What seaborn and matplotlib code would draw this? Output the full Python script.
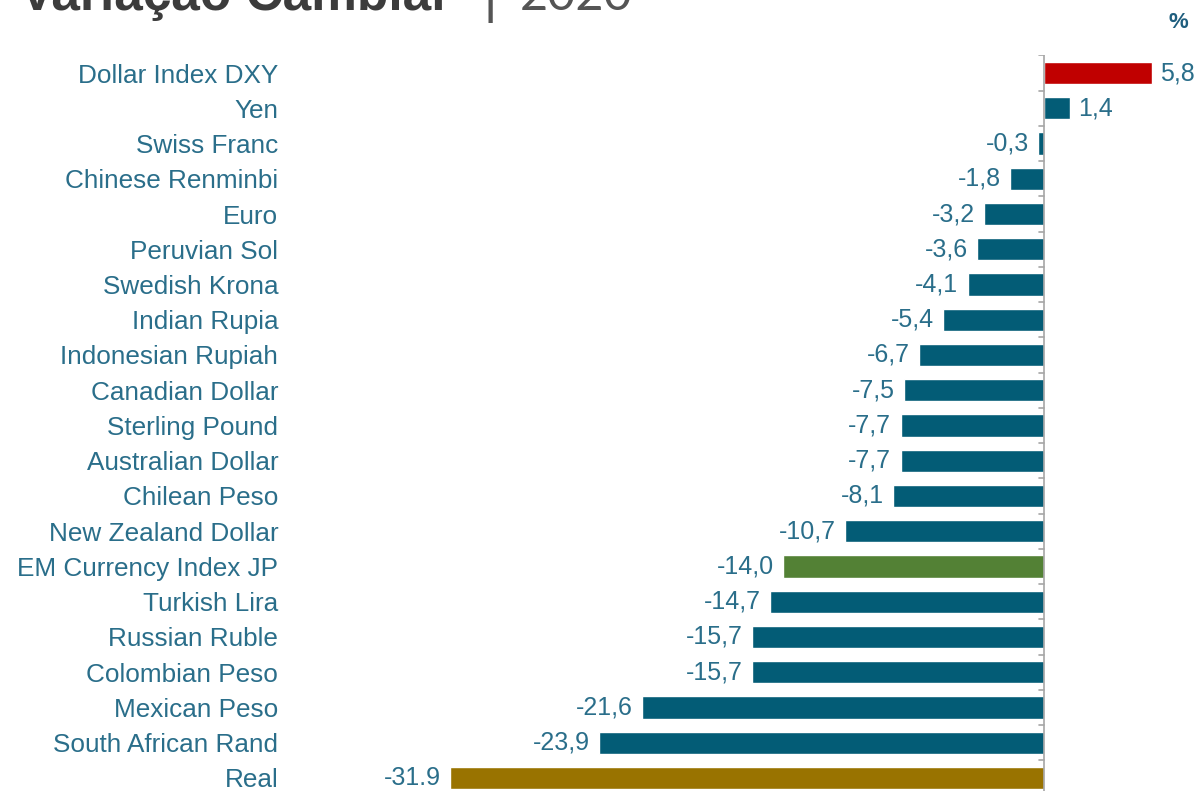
import matplotlib
matplotlib.use("Agg")
import matplotlib.pyplot as plt
import seaborn as sns
import pandas as pd

categories = ["Dollar Index DXY", "Yen", "Swiss Franc", "Chinese Renminbi", "Euro",
              "Peruvian Sol", "Swedish Krona", "Indian Rupia", "Indonesian Rupiah",
              "Canadian Dollar", "Sterling Pound", "Australian Dollar", "Chilean Peso",
              "New Zealand Dollar", "EM Currency Index JP", "Turkish Lira", "Russian Ruble",
              "Colombian Peso", "Mexican Peso", "South African Rand", "Real"]
values = [5.8, 1.4, -0.3, -1.8, -3.2, -3.6, -4.1, -5.4, -6.7, -7.5, -7.7, -7.7, -8.1,
          -10.7, -14.0, -14.7, -15.7, -15.7, -21.6, -23.9, -31.9]
value_labels = ["5,8", "1,4", "-0,3", "-1,8", "-3,2", "-3,6", "-4,1", "-5,4", "-6,7", "-7,5",
                "-7,7", "-7,7", "-8,1", "-10,7", "-14,0", "-14,7", "-15,7", "-15,7", "-21,6",
                "-23,9", "-31.9"]

TEAL = "#035C76"
colors = [TEAL] * len(categories)
colors[0] = "#C00000"
colors[categories.index("EM Currency Index JP")] = "#538135"
colors[categories.index("Real")] = "#997300"
TEXT = "#2A6E8A"

df = pd.DataFrame({"category": categories, "value": values})

sns.set_theme(style="white")
plt.rcParams["font.family"] = ["Liberation Sans", "DejaVu Sans"]

W, H = 1199, 791
fig = plt.figure(figsize=(W / 100, H / 100), dpi=100)
# axes: x from 290px to 1199px, y from 55px to 791px (top-down)
ax = fig.add_axes([290 / W, 0, (W - 290) / W, (791 - 55.4) / H])

sns.barplot(data=df, y="category", x="value", hue="category", palette=colors,
            orient="h", width=0.63, legend=False, ax=ax, saturation=1)

ax.set_xlim(-40.5, 8.33)
ax.set_ylim(20.37, -0.5)
for s in ax.spines.values():
    s.set_visible(False)
ax.set_xticks([])
ax.set_xlabel("")
ax.set_ylabel("")
ax.tick_params(axis="y", length=0, pad=8.5, labelsize=18.8, labelcolor=TEXT)

# zero axis with small ticks at category boundaries
ax.axvline(0, color="#A6A6A6", lw=1.2, zorder=3)
for i in range(len(categories) + 1):
    ax.plot([-0.28, 0], [i - 0.5, i - 0.5], color="#A6A6A6", lw=1.2, zorder=3)

for i, (v, lab) in enumerate(zip(values, value_labels)):
    if v >= 0:
        ax.text(v + 0.45, i, lab, ha="left", va="center", fontsize=18, color=TEXT)
    else:
        ax.text(v - 0.5, i, lab, ha="right", va="center", fontsize=18, color=TEXT)

fig.text(1178 / W, 1 - 22 / H, "%", ha="center", va="center", fontsize=16,
         fontweight="bold", color="#1F5E7E")

# title (cropped at top in reference)
fig.text(20 / W, 1 - 10 / H, "Variação Cambial", ha="left", va="baseline",
         fontsize=37, fontweight="bold", color="#3C3C3C",
         family=["Liberation Sans", "DejaVu Sans"])
fig.text(482 / W, 1 - 10 / H, "|", ha="left", va="baseline",
         fontsize=37, fontweight="normal", color="#555555",
         family=["DejaVu Sans"])
fig.text(520 / W, 1 - 10 / H, "2020", ha="left", va="baseline",
         fontsize=35, fontweight="normal", color="#555555",
         family=["Lato", "DejaVu Sans"])

fig.savefig("out.png", dpi=100)
